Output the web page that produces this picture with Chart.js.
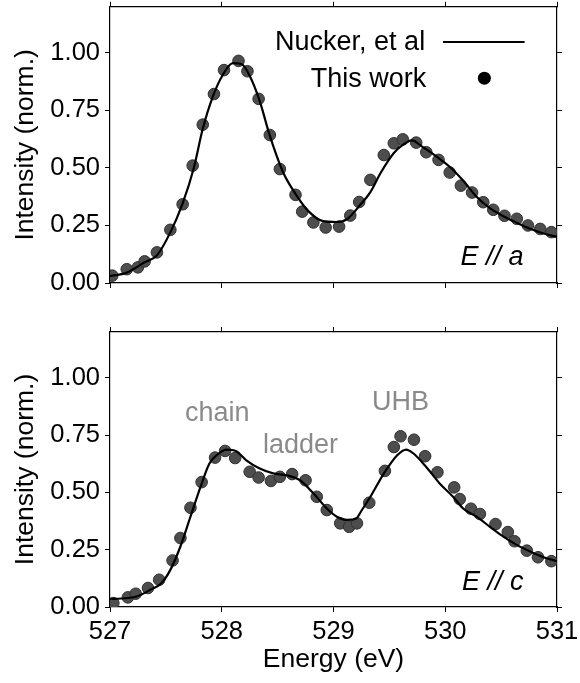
<!DOCTYPE html>
<html>
<head>
<meta charset="utf-8">
<script src="https://cdn.jsdelivr.net/npm/chart.js@4.4.1/dist/chart.umd.min.js"></script>
<style>
html, body { margin: 0; padding: 0; background: #fff; }
#wrap { position: relative; width: 580px; height: 683px; }
#chartA { position: absolute; left: 0; top: 0; }
#chartB { position: absolute; left: 0; top: 300px; }
</style>
</head>
<body>
<div id="wrap">
<canvas id="chartA" width="580" height="300"></canvas>
<canvas id="chartB" width="580" height="383"></canvas>
</div>
<script>
const energyTicks = [527, 528, 529, 530, 531];
const intensityTicks = [0, 0.25, 0.5, 0.75, 1.0];

// E // a : Nucker et al. reference curve
const aRefEnergy = [527.00, 527.15, 527.31, 527.42, 527.54, 527.65, 527.75, 527.83, 527.92, 528.01,
  528.10, 528.18, 528.25, 528.34, 528.43, 528.55, 528.67, 528.78, 528.90, 529.03,
  529.12, 529.24, 529.33, 529.42, 529.54, 529.62, 529.70, 529.80, 529.92, 530.04,
  530.16, 530.28, 530.40, 530.52, 530.64, 530.76, 530.88, 531.00];
const aRefIntensity = [0.030, 0.045, 0.090, 0.120, 0.220, 0.346, 0.500, 0.670, 0.810, 0.905,
  0.955, 0.950, 0.900, 0.790, 0.640, 0.480, 0.380, 0.310, 0.270, 0.265,
  0.277, 0.340, 0.395, 0.477, 0.565, 0.600, 0.620, 0.590, 0.550, 0.505,
  0.445, 0.375, 0.325, 0.290, 0.262, 0.236, 0.215, 0.200];

// E // a : this work
const aEnergy = [527.02, 527.15, 527.25, 527.31, 527.42, 527.54, 527.65, 527.74, 527.83, 527.93,
  528.02, 528.15, 528.23, 528.33, 528.43, 528.52, 528.66, 528.72, 528.82, 528.93,
  529.05, 529.15, 529.23, 529.33, 529.45, 529.54, 529.62, 529.74, 529.83, 529.94,
  530.04, 530.14, 530.24, 530.34, 530.43, 530.53, 530.64, 530.74, 530.85, 530.95];
const aIntensity = [0.032, 0.060, 0.068, 0.094, 0.133, 0.231, 0.342, 0.510, 0.688, 0.821,
  0.925, 0.965, 0.920, 0.800, 0.643, 0.495, 0.383, 0.310, 0.263, 0.241,
  0.245, 0.293, 0.352, 0.448, 0.556, 0.607, 0.624, 0.610, 0.568, 0.535,
  0.480, 0.423, 0.393, 0.351, 0.318, 0.292, 0.279, 0.250, 0.235, 0.221];

// E // c : Nucker et al. reference curve
const cRefEnergy = [527.00, 527.10, 527.24, 527.36, 527.46, 527.54, 527.63, 527.72, 527.81, 527.89,
  527.98, 528.04, 528.13, 528.22, 528.34, 528.46, 528.58, 528.70, 528.82, 528.94,
  529.03, 529.12, 529.20, 529.25, 529.33, 529.45, 529.57, 529.65, 529.71, 529.83,
  529.95, 530.07, 530.16, 530.28, 530.40, 530.52, 530.64, 530.76, 530.88, 531.00];
const cRefIntensity = [0.035, 0.037, 0.046, 0.075, 0.104, 0.162, 0.264, 0.394, 0.524, 0.626,
  0.672, 0.687, 0.680, 0.640, 0.604, 0.583, 0.575, 0.553, 0.496, 0.430,
  0.394, 0.380, 0.385, 0.420, 0.481, 0.582, 0.662, 0.687, 0.672, 0.611,
  0.539, 0.481, 0.430, 0.394, 0.350, 0.307, 0.271, 0.242, 0.217, 0.200];

// E // c : this work
const cEnergy = [527.03, 527.16, 527.23, 527.34, 527.44, 527.56, 527.63, 527.72, 527.82, 527.94,
  528.03, 528.12, 528.25, 528.33, 528.44, 528.52, 528.63, 528.75, 528.85, 528.94,
  529.06, 529.14, 529.21, 529.32, 529.46, 529.54, 529.60, 529.72, 529.82, 529.93,
  530.08, 530.13, 530.23, 530.31, 530.45, 530.56, 530.62, 530.73, 530.83, 530.95];
const cIntensity = [0.017, 0.042, 0.058, 0.083, 0.119, 0.203, 0.301, 0.433, 0.545, 0.652,
  0.681, 0.650, 0.590, 0.565, 0.550, 0.568, 0.580, 0.553, 0.481, 0.423,
  0.365, 0.350, 0.365, 0.455, 0.594, 0.698, 0.745, 0.730, 0.658, 0.588,
  0.522, 0.471, 0.429, 0.406, 0.362, 0.327, 0.287, 0.246, 0.217, 0.200];

const FONT = "'Liberation Sans', Arial, sans-serif";

function pairs(xs, ys) {
  return xs.map((x, i) => ({ x: x, y: ys[i] }));
}

// text, legend entries and panel tags drawn in data coordinates
const notesPlugin = {
  id: 'notes',
  afterDatasetsDraw(chart, args, opts) {
    const ctx = chart.ctx;
    const xs = chart.scales.x, ys = chart.scales.y;
    ctx.save();
    ctx.textBaseline = 'middle';
    (opts.texts || []).forEach(t => {
      ctx.font = (t.italic ? 'italic ' : '') + t.size + 'px ' + FONT;
      ctx.fillStyle = t.color || '#000';
      ctx.textAlign = t.align || 'center';
      ctx.fillText(t.text, xs.getPixelForValue(t.x), ys.getPixelForValue(t.y));
    });
    if (opts.lineKey) {
      const k = opts.lineKey;
      ctx.strokeStyle = '#000';
      ctx.lineWidth = 2.2;
      ctx.beginPath();
      ctx.moveTo(xs.getPixelForValue(k.x0), ys.getPixelForValue(k.y));
      ctx.lineTo(xs.getPixelForValue(k.x1), ys.getPixelForValue(k.y));
      ctx.stroke();
    }
    if (opts.dotKey) {
      const d = opts.dotKey;
      ctx.fillStyle = '#000';
      ctx.beginPath();
      ctx.arc(xs.getPixelForValue(d.x), ys.getPixelForValue(d.y), 6.5, 0, Math.PI * 2);
      ctx.fill();
    }
    ctx.restore();
  }
};

function makeScales(sizes, showXLabels) {
  const marks = { drawOnChartArea: false, drawTicks: true, tickLength: 5, color: '#000', lineWidth: 1 };
  const edge = { color: '#000', width: 1.2 };
  const setX = s => { s.ticks = energyTicks.map(v => ({ value: v })); };
  const setY = s => { s.ticks = intensityTicks.map(v => ({ value: v })); };
  return {
    x: {
      type: 'linear', position: 'bottom', min: 527, max: 531,
      grid: marks, border: edge, afterBuildTicks: setX,
      ticks: { display: showXLabels, padding: 5, color: '#000', maxRotation: 0,
        font: { family: FONT, size: 25.5 }, callback: v => String(v) },
      title: { display: showXLabels, text: 'Energy (eV)', color: '#000',
        font: { family: FONT, size: 26.5 }, padding: { top: 0, bottom: 7 } },
      afterFit: s => { s.height = sizes.bottom; s.paddingLeft = 0; s.paddingRight = 0; }
    },
    xTop: {
      type: 'linear', position: 'top', min: 527, max: 531,
      grid: marks, border: edge, afterBuildTicks: setX,
      ticks: { display: false },
      afterFit: s => { s.height = sizes.top; s.paddingLeft = 0; s.paddingRight = 0; }
    },
    y: {
      type: 'linear', position: 'left', min: 0, max: 1.2,
      grid: marks, border: edge, afterBuildTicks: setY,
      ticks: { padding: 5, color: '#000', font: { family: FONT, size: 25.5 },
        callback: v => v.toFixed(2) },
      title: { display: true, text: 'Intensity (norm.)', color: '#000',
        font: { family: FONT, size: 26.5 }, padding: { top: 10, bottom: 4 } },
      afterFit: s => { s.width = 110; s.paddingTop = 0; s.paddingBottom = 0; }
    },
    yRight: {
      type: 'linear', position: 'right', min: 0, max: 1.2,
      grid: marks, border: edge, afterBuildTicks: setY,
      ticks: { display: false },
      afterFit: s => { s.width = 23; s.paddingTop = 0; s.paddingBottom = 0; }
    }
  };
}

function makeDatasets(refX, refY, ourX, ourY) {
  return [{
    type: 'line',
    label: 'Nucker, et al',
    data: pairs(refX, refY),
    borderColor: '#000',
    borderWidth: 2.2,
    pointRadius: 0,
    cubicInterpolationMode: 'monotone',
    fill: false
  }, {
    type: 'scatter',
    label: 'This work',
    data: pairs(ourX, ourY),
    backgroundColor: '#4d4d4d',
    borderColor: '#2f2f2f',
    borderWidth: 1,
    pointRadius: 5.8
  }];
}

function createChart(id, datasets, sizes, showXLabels, notes) {
  return new Chart(document.getElementById(id), {
    type: 'scatter',
    data: { datasets: datasets },
    options: {
      responsive: false,
      animation: false,
      layout: { padding: 0 },
      scales: makeScales(sizes, showXLabels),
      plugins: {
        legend: { display: false },
        tooltip: { enabled: false },
        notes: notes
      }
    },
    plugins: [notesPlugin]
  });
}

createChart('chartA', makeDatasets(aRefEnergy, aRefIntensity, aEnergy, aIntensity),
  { top: 6, bottom: 17 }, false, {
    texts: [
      { text: 'Nucker, et al', x: 529.82, y: 1.045, size: 27, align: 'right' },
      { text: 'This work', x: 529.83, y: 0.885, size: 27, align: 'right' },
      { text: 'E // a', x: 530.70, y: 0.11, size: 27, align: 'right', italic: true }
    ],
    lineKey: { x0: 529.98, x1: 530.71, y: 1.047 },
    dotKey: { x: 530.35, y: 0.89 }
  });

createChart('chartB', makeDatasets(cRefEnergy, cRefIntensity, cEnergy, cIntensity),
  { top: 32, bottom: 76 }, true, {
    texts: [
      { text: 'chain', x: 527.96, y: 0.845, size: 27, color: '#8a8a8a' },
      { text: 'ladder', x: 528.705, y: 0.705, size: 27, color: '#8a8a8a' },
      { text: 'UHB', x: 529.60, y: 0.89, size: 27, color: '#8a8a8a' },
      { text: 'E // c', x: 530.70, y: 0.106, size: 27, align: 'right', italic: true }
    ]
  });
</script>
</body>
</html>
